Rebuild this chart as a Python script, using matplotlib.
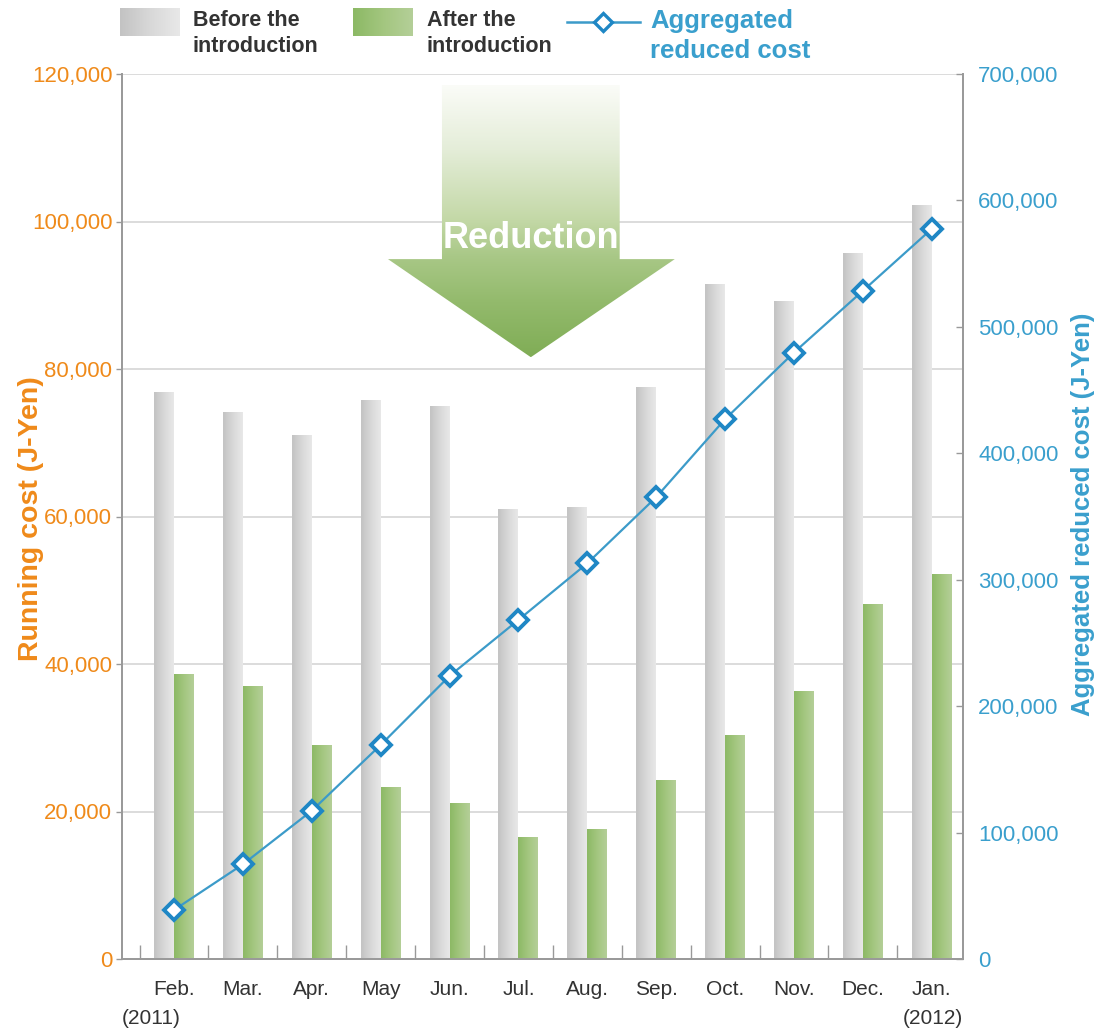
import numpy as np
import matplotlib
matplotlib.use("Agg")
import matplotlib.pyplot as plt
from matplotlib.colors import LinearSegmentedColormap
from matplotlib.patches import Polygon
from matplotlib.ticker import FuncFormatter, FixedLocator

# ---- data -------------------------------------------------------------------
months = ["Feb.", "Mar.", "Apr.", "May", "Jun.", "Jul.",
          "Aug.", "Sep.", "Oct.", "Nov.", "Dec.", "Jan."]
cost_before = [76800, 74100, 71000, 75700, 74900, 61000,
               61200, 77500, 91500, 89200, 95600, 102200]
cost_after = [38600, 37000, 28900, 23300, 21100, 16500,
              17600, 24200, 30300, 36300, 48100, 52100]
reduced_total = [38800, 74900, 117300, 169300, 223900, 268200,
                 313000, 365300, 427000, 479700, 528500, 577500]

ORANGE = "#ef8a1a"
BLUE = "#3a9fcd"
LINE_BLUE = "#3c9bc9"
MARK_BLUE = "#1f87c5"
DARK = "#333333"
SANS = "Liberation Sans"

W, H = 1102, 1032
fig = plt.figure(figsize=(W / 100, H / 100), dpi=100)
fig.patch.set_facecolor("white")

def fx(px):
    return px / W

def fy(py):
    return 1 - py / H

ax = fig.add_axes([fx(122), fy(959), fx(963) - fx(122), fy(74) - fy(959)])
ax2 = ax.twinx()

x = np.arange(len(months))
bw = 0.29

# ---- bars with horizontal gradient ------------------------------------------
grey_cmap = LinearSegmentedColormap.from_list("g1", ["#c3c3c3", "#d8d8d8", "#e8e8e8"])
green_cmap = LinearSegmentedColormap.from_list("g2", ["#8cb965", "#a3c67f", "#b4cf98"])
grad = np.linspace(0, 1, 64).reshape(1, -1)

bars_b = ax.bar(x - bw / 2, cost_before, width=bw, color="none", edgecolor="none", zorder=2)
bars_a = ax.bar(x + bw / 2, cost_after, width=bw, color="none", edgecolor="none", zorder=2)
for bars, cmap in ((bars_b, grey_cmap), (bars_a, green_cmap)):
    for r in bars:
        x0, w, h = r.get_x(), r.get_width(), r.get_height()
        ax.imshow(grad, cmap=cmap, extent=[x0, x0 + w, 0, h], aspect="auto",
                  interpolation="bicubic", zorder=2)

# ---- "Reduction" arrow --------------------------------------------------------
arrow_pts = [(3.89, 118500), (6.47, 118500), (6.47, 94900), (7.27, 94900),
             (5.18, 81600), (3.106, 94900), (3.89, 94900)]
arrow = Polygon(arrow_pts, closed=True, facecolor="none", edgecolor="none")
ax.add_patch(arrow)
arrow_cmap = LinearSegmentedColormap.from_list(
    "arr", [(0.0, "#80ad56"), (0.2, "#93ba6c"), (0.37, "#a9c887"),
            (0.5, "#c3d8a6"), (0.76, "#e4edd8"), (1.0, "#fbfcf8")])
vgrad = np.linspace(0, 1, 256).reshape(-1, 1)
im = ax.imshow(vgrad, cmap=arrow_cmap, origin="lower", aspect="auto",
               extent=[3.0, 7.4, 81600, 118500], interpolation="bicubic", zorder=1.5)
im.set_clip_path(arrow)
ax.text(5.18, 97700, "Reduction", color="white", fontsize=26, fontweight="bold",
        family=SANS, ha="center", va="center", zorder=1.6)

# ---- axes styling -----------------------------------------------------------
ax.set_xlim(-0.755, 11.454)
ax.set_ylim(0, 120000)
ax2.set_ylim(0, 700000)

ax.set_axisbelow(True)
ax.yaxis.grid(True, color="#d9d9d9", lw=1.3, zorder=0)
ax.set_yticks(np.arange(0, 120001, 20000))
ax2.set_yticks(np.arange(0, 700001, 100000))
comma = FuncFormatter(lambda v, p: f"{int(v):,}")
ax.yaxis.set_major_formatter(comma)
ax2.yaxis.set_major_formatter(comma)

ax.xaxis.set_major_locator(FixedLocator(np.arange(-0.5, 11, 1.0)))
ax.xaxis.set_minor_locator(FixedLocator(x))
ax.set_xticklabels([])
ax.set_xticklabels(months, minor=True)
ax.tick_params(axis="x", which="major", direction="in", length=10, width=1, color="#999999")
ax.tick_params(axis="x", which="minor", length=0, pad=15, labelsize=15, labelcolor=DARK)
for t in ax.get_xticklabels(minor=True):
    t.set_family(SANS)

ax.tick_params(axis="y", direction="out", length=4, width=1, color="#999999",
               labelsize=16, labelcolor=ORANGE, pad=3)
ax2.tick_params(axis="y", direction="in", length=5, width=1, color="#999999",
                labelsize=16, labelcolor=BLUE, pad=11)
for t in ax.get_yticklabels() + ax2.get_yticklabels():
    t.set_family(SANS)

for a in (ax, ax2):
    a.spines["top"].set_visible(False)
    for s in ("left", "right", "bottom"):
        a.spines[s].set_color("#9a9a9a")
        a.spines[s].set_linewidth(1.4)

ax.set_ylabel("Running cost (J-Yen)", color=ORANGE, fontsize=20.5, fontweight="bold",
              family=SANS)
ax.yaxis.set_label_coords(-0.0927, 0.498)
ax2.set_ylabel("Aggregated reduced cost (J-Yen)", color=BLUE, fontsize=18.5,
               fontweight="bold", family=SANS, rotation=90)
ax2.yaxis.set_label_coords(1.128, 0.502)

ax.text(-0.755, -0.067, "(2011)", transform=ax.get_xaxis_transform(), ha="left",
        va="center", fontsize=15, color=DARK, family=SANS)
ax.text(11.454, -0.067, "(2012)", transform=ax.get_xaxis_transform(), ha="right",
        va="center", fontsize=15, color=DARK, family=SANS)

# ---- aggregated line --------------------------------------------------------
ax2.plot(x, reduced_total, color=LINE_BLUE, lw=1.6, marker="D", ms=10.5,
         mfc="white", mec=MARK_BLUE, mew=2.8, zorder=3, clip_on=False)

# ---- legend along the top ---------------------------------------------------
lg = fig.add_axes([0, 0, 1, 1])
lg.axis("off")
lg.patch.set_visible(False)
lg.imshow(grad, cmap=grey_cmap, extent=[120, 180, 36, 8], aspect="auto", interpolation="bicubic")
lg.imshow(grad, cmap=green_cmap, extent=[353, 413, 36, 8], aspect="auto", interpolation="bicubic")
lg.set_xlim(0, W)
lg.set_ylim(H, 0)

legend_text = dict(fontsize=15.5, fontweight="bold", family=SANS, color=DARK,
                   ha="left", va="center")
lg.text(193, 21, "Before the", **legend_text)
lg.text(193, 47, "introduction", **legend_text)
lg.text(427, 21, "After the", **legend_text)
lg.text(427, 47, "introduction", **legend_text)
lg.plot([567, 640], [22, 22], color=LINE_BLUE, lw=1.8)
lg.plot([603], [22], marker="D", ms=9, mfc="white", mec=MARK_BLUE, mew=2.4)
blue_text = dict(fontsize=18.5, fontweight="bold", family=SANS, color=BLUE,
                 ha="left", va="center")
lg.text(650, 21, "Aggregated", **blue_text)
lg.text(650, 51, "reduced cost", **blue_text)

fig.savefig("out.png", dpi=100, facecolor="white")
